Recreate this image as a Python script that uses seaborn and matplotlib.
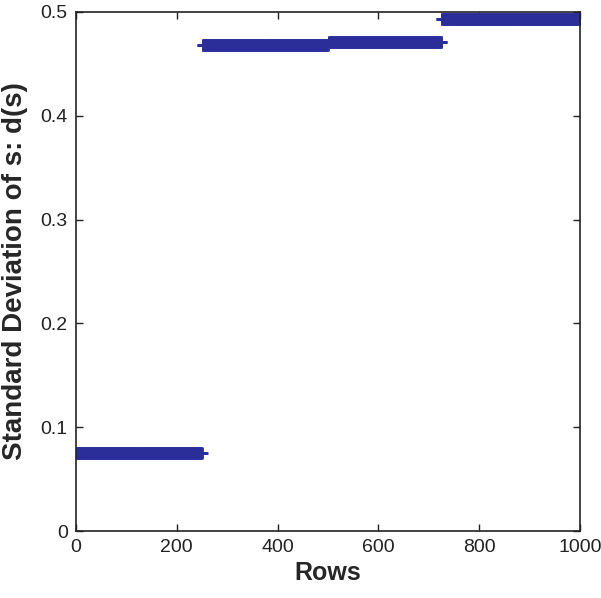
import numpy as np
import pandas as pd
import matplotlib
matplotlib.use("Agg")
import matplotlib.pyplot as plt
import seaborn as sns

# Data: standard deviation per row, four blocks of rows
block_starts = [1, 251, 501, 726]
block_ends = [250, 500, 725, 1000]
block_values = [0.075, 0.468, 0.471, 0.493]
xticks = [0, 200, 400, 600, 800, 1000]
yticks = [0, 0.1, 0.2, 0.3, 0.4, 0.5]

rows, vals = [], []
for s, e, v in zip(block_starts, block_ends, block_values):
    for r in range(s, e + 1):
        rows.append(r)
        vals.append(v)
df = pd.DataFrame({"Rows": rows, "d": vals})

sns.set_theme(style="white")
plt.rcParams["font.family"] = ["Liberation Sans", "DejaVu Sans"]

fig = plt.figure(figsize=(6.01, 5.98), dpi=100)
ax = fig.add_axes([76 / 601, 67 / 598, 504 / 601, 519 / 598])

color = "#2B2E99"
ax.plot(df["Rows"], df["d"], linestyle="none", marker="+", markersize=9,
        markeredgewidth=2.0, color=color)
sns.scatterplot(data=df.iloc[:0], x="Rows", y="d", ax=ax)

ax.set_xlim(0, 1000)
ax.set_ylim(0, 0.5)
ax.set_xticks(xticks)
ax.set_yticks(yticks)
ax.set_xticklabels([str(t) for t in xticks])
ax.set_yticklabels(["0", "0.1", "0.2", "0.3", "0.4", "0.5"])
ax.tick_params(direction="in", length=5, width=1, top=True, right=True,
               bottom=True, left=True, labelsize=14, colors="#222222",
               pad=6)
for sp in ax.spines.values():
    sp.set_visible(True)
    sp.set_color("#222222")
    sp.set_linewidth(1.2)

ax.set_xlabel("Rows", fontsize=18, fontweight="bold", labelpad=3)
ax.set_ylabel("Standard Deviation of s: d(s)", fontsize=20, fontweight="bold")
ax.yaxis.set_label_coords(-0.095, 0.5)

fig.savefig("out.png", dpi=100)
